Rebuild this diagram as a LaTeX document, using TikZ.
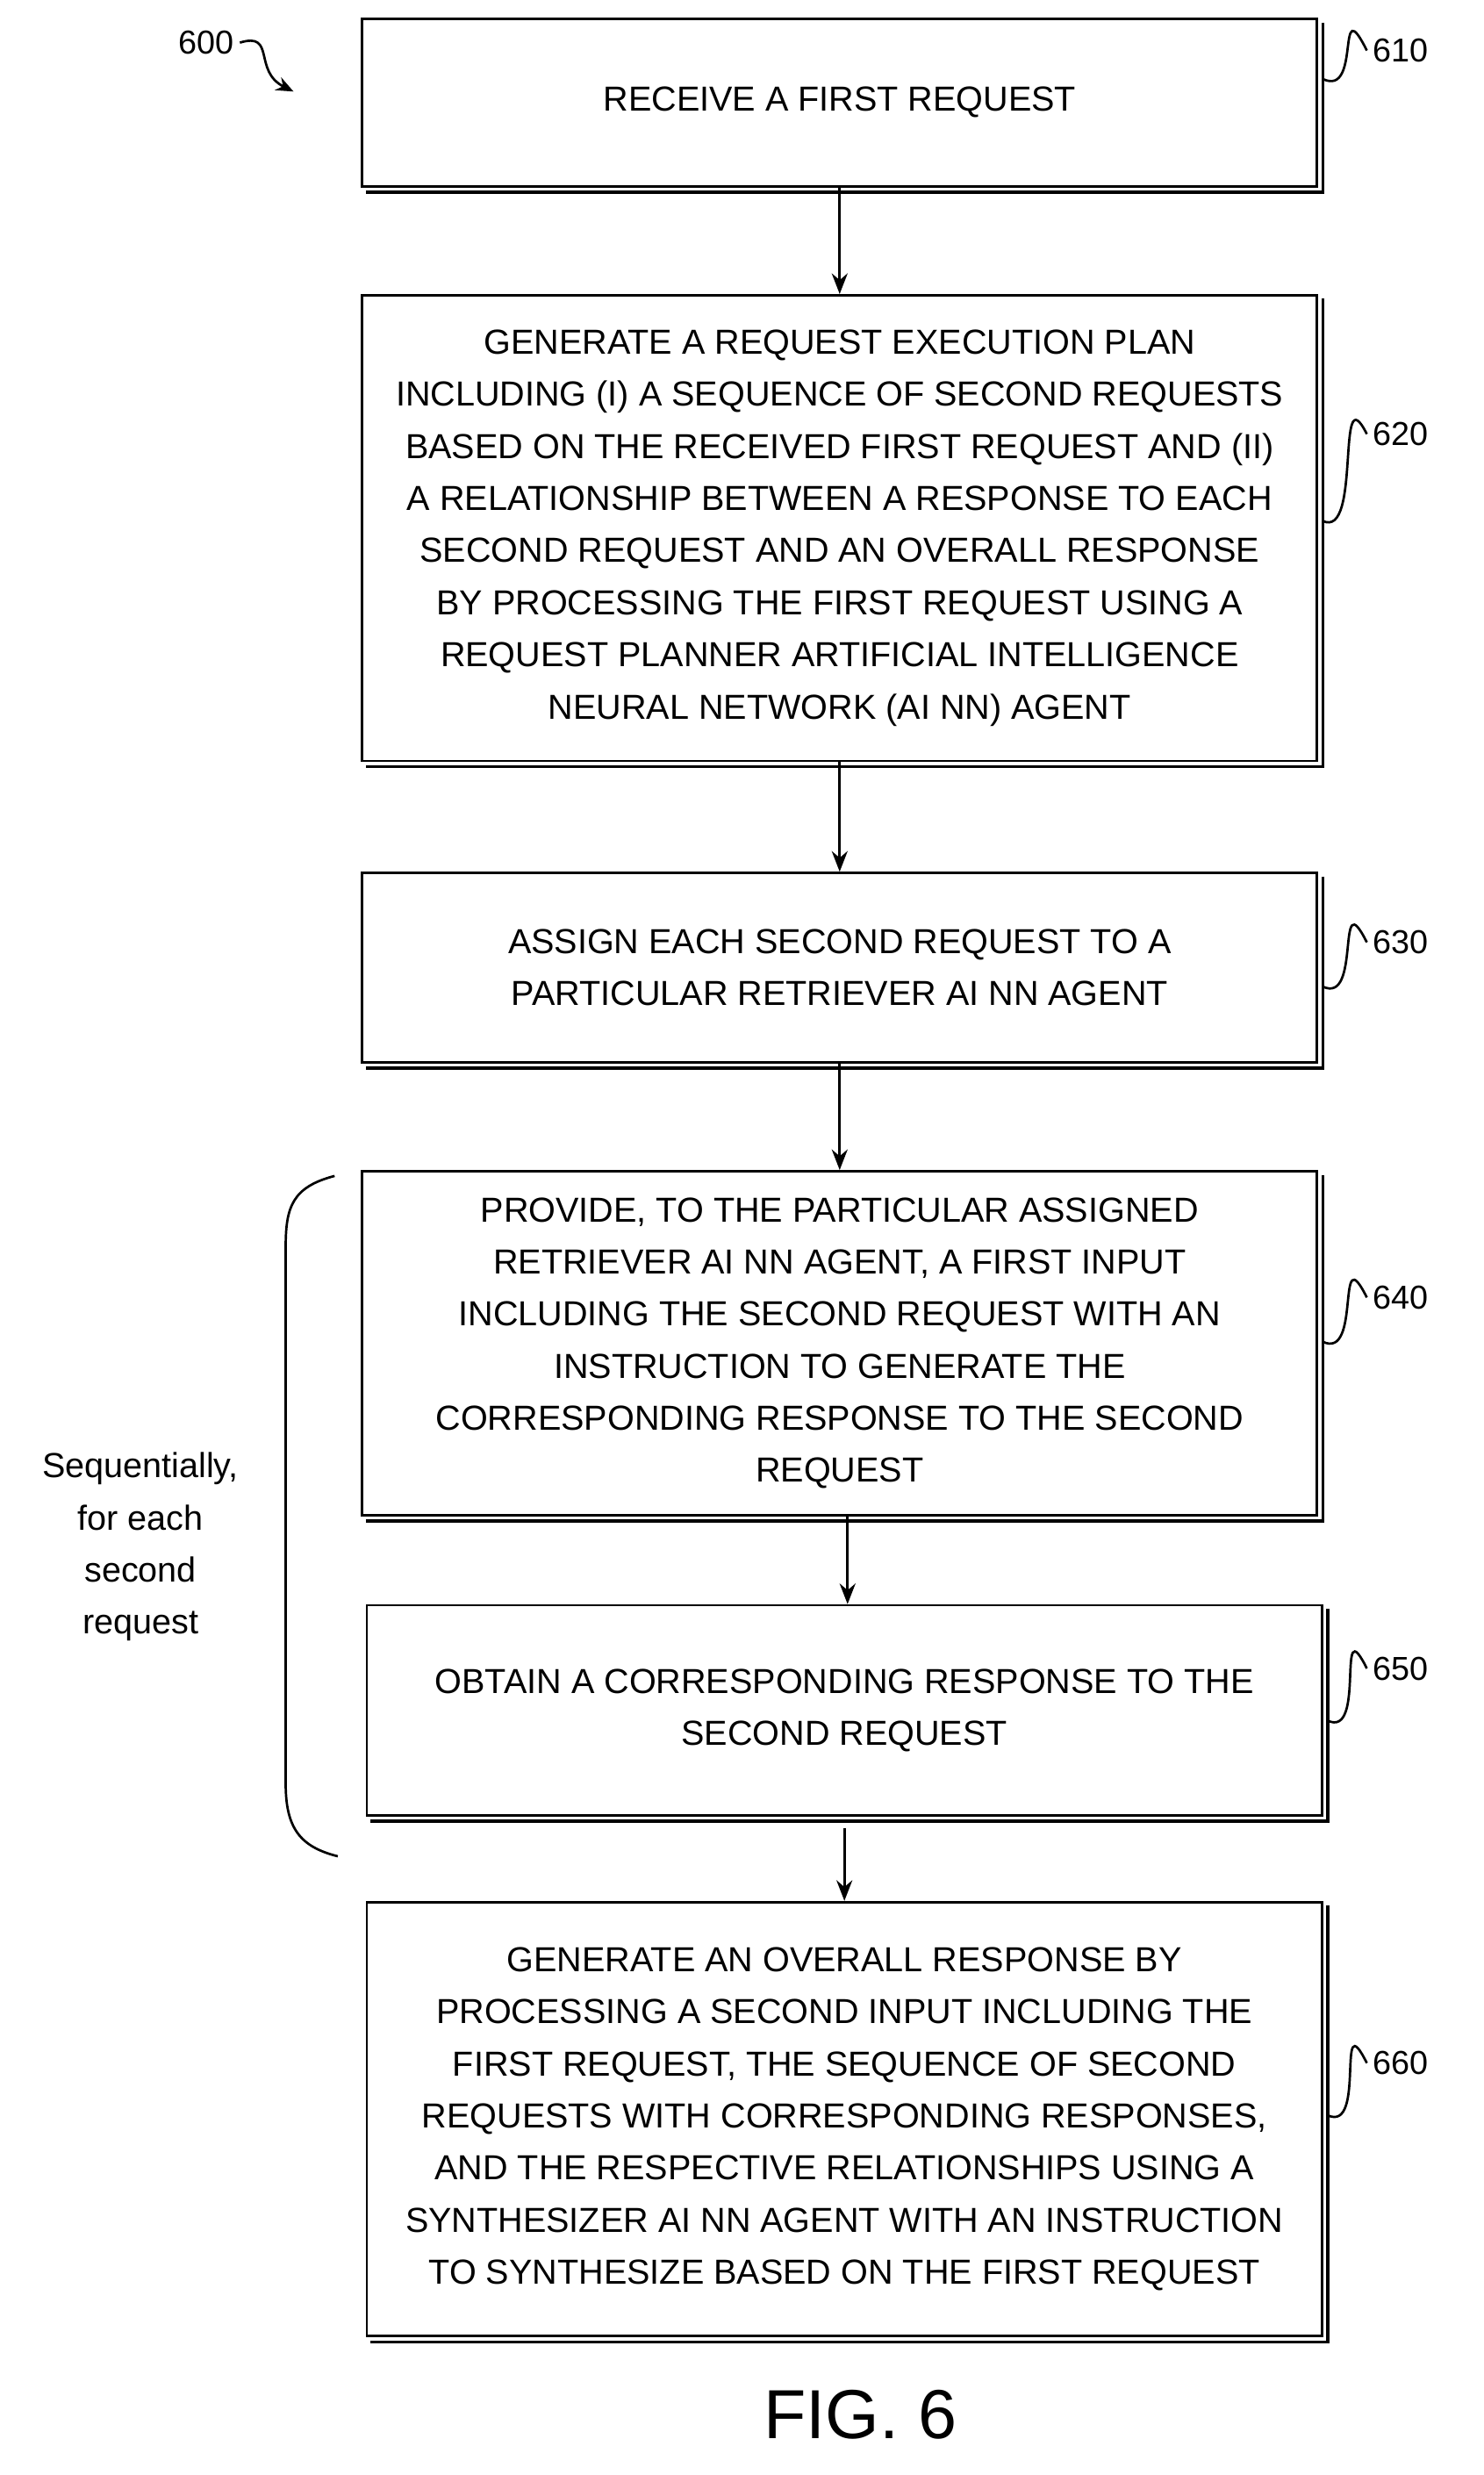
\documentclass[tikz,border=0pt]{standalone}
\usepackage{fontspec}
\setmainfont{Liberation Sans}
\usetikzlibrary{positioning,arrows.meta,decorations.pathreplacing}
\tikzset{every picture/.style={line width=1.5pt}}
\tikzset{
  flowbox/.style={draw,rectangle,minimum width=605pt,align=center,font=\fontsize{22}{33}\selectfont,inner sep=0pt},
  flow/.style={-{Stealth[length=13pt,width=10pt]},line width=1.8pt},
  ref/.style={font=\fontsize{21}{25}\selectfont},
}
\newcommand{\shadowbox}[1]{%
  \draw[line width=2pt] ([xshift=3pt,yshift=-3pt]#1.north east) -- ([xshift=3pt,yshift=-3pt]#1.south east) -- ([xshift=3pt,yshift=-3pt]#1.south west);}
\newcommand{\leader}[2]{%
  \draw[line width=1.5pt] (#1) .. controls +(25,12) and +(-20,-40) .. (#2);}
\begin{document}
\begin{tikzpicture}[x=1pt,y=-1pt]
	\useasboundingbox (0,0) rectangle (940,1568);

	% boxes
	\node[flowbox,minimum height=106pt] (s610) at (532,65) {RECEIVE A FIRST REQUEST};
	\node[flowbox,minimum height=295pt] (s620) at (532,334.5) {GENERATE A REQUEST EXECUTION PLAN\\INCLUDING (I) A SEQUENCE OF SECOND REQUESTS\\BASED ON THE RECEIVED FIRST REQUEST AND (II)\\A RELATIONSHIP BETWEEN A RESPONSE TO EACH\\SECOND REQUEST AND AN OVERALL RESPONSE\\BY PROCESSING THE FIRST REQUEST USING A\\REQUEST PLANNER ARTIFICIAL INTELLIGENCE\\NEURAL NETWORK (AI NN) AGENT};
	\node[flowbox,minimum height=120pt] (s630) at (532,613) {ASSIGN EACH SECOND REQUEST TO A\\PARTICULAR RETRIEVER AI NN AGENT};
	\node[flowbox,minimum height=218pt] (s640) at (532,851) {PROVIDE, TO THE PARTICULAR ASSIGNED\\RETRIEVER AI NN AGENT, A FIRST INPUT\\INCLUDING THE SECOND REQUEST WITH AN\\INSTRUCTION TO GENERATE THE\\CORRESPONDING RESPONSE TO THE SECOND\\REQUEST};
	\node[flowbox,minimum height=133pt] (s650) at (535,1083.5) {OBTAIN A CORRESPONDING RESPONSE TO THE\\SECOND REQUEST};
	\node[flowbox,minimum height=275pt] (s660) at (535,1342.5) {GENERATE AN OVERALL RESPONSE BY\\PROCESSING A SECOND INPUT INCLUDING THE\\FIRST REQUEST, THE SEQUENCE OF SECOND\\REQUESTS WITH CORRESPONDING RESPONSES,\\AND THE RESPECTIVE RELATIONSHIPS USING A\\SYNTHESIZER AI NN AGENT WITH AN INSTRUCTION\\TO SYNTHESIZE BASED ON THE FIRST REQUEST};
	\foreach \b in {s610,s620,s630,s640,s650,s660} {\shadowbox{\b}}

	% arrows
	\draw[flow] (s610) -- (s620);
	\draw[flow] (s620) -- (s630);
	\draw[flow] (s630) -- (s640);
	\draw[flow] ([xshift=5pt]s640.south) -- ([xshift=2pt]s650.north);
	\coordinate (loopend) at (535,1158);
	\draw[flow] (loopend) -- (s660.north);

	% reference numerals
	\node[ref,anchor=west] (n610) at (866,32) {610};
	\node[ref,anchor=west] (n620) at (866,275) {620};
	\node[ref,anchor=west] (n630) at (866,597) {630};
	\node[ref,anchor=west] (n640) at (866,822) {640};
	\node[ref,anchor=west] (n650) at (866,1057) {650};
	\node[ref,anchor=west] (n660) at (866,1307) {660};
	\leader{838,50}{n610.west}
	\leader{838,330}{n620.west}
	\leader{838,625}{n630.west}
	\leader{838,850}{n640.west}
	\leader{841,1090}{n650.west}
	\leader{841,1340}{n660.west}

	\node[ref,anchor=east] (n600) at (152,27) {600};
	\draw[-{Stealth[length=11pt,width=9pt]}] (n600.east) .. controls (175,20) and (160,45) .. (186,58);

	% bracket for the loop
	\draw[line width=1.5pt] (212,745) .. controls (185,752) and (181,765) .. (181,790) -- (181,1130) .. controls (181,1158) and (190,1170) .. (214,1176);
	\node[align=center,font=\fontsize{22}{33}\selectfont] (loop) at (89,980) {Sequentially,\\for each\\second\\request};

	\node[font=\fontsize{44}{50}\selectfont] (fig) at (545,1530) {FIG. 6};
\end{tikzpicture}
\end{document}
